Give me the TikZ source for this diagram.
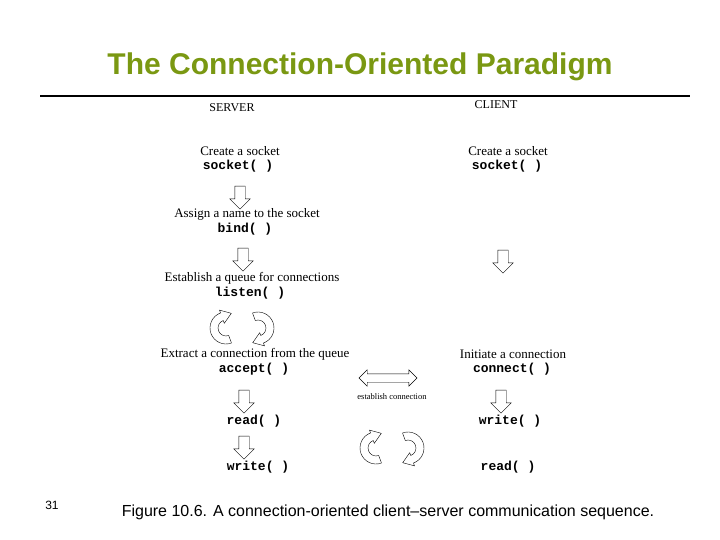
\documentclass[tikz,border=0pt]{standalone}
\usepackage{fontspec}
\setmainfont{Liberation Serif}
\newfontfamily\arialfont{Liberation Sans}
\setmonofont{Liberation Mono}
\usetikzlibrary{shapes.arrows,calc}
\definecolor{titlegreen}{RGB}{122,152,18}
\tikzset{
  stage/.style = {font=\fontsize{13}{14}\selectfont, inner sep=0pt},
  call/.style = {font=\fontsize{13}{14}\selectfont\ttfamily\bfseries, inner sep=0pt},
  down/.style = {single arrow, draw, shape border rotate=270, minimum height=23pt,
                 inner sep=5pt, single arrow head extend=5pt},
  loop/.pic = {
    \draw ($(70:16)$) arc (70:250:16) -- (250:19) -- ($(250:12)+(-20:10)$)
          -- (250:5) -- (250:8) arc (250:70:8) -- cycle;
  }
}
\begin{document}
\begin{tikzpicture}[x=1pt, y=-1pt]
	\useasboundingbox (0,0) rectangle (720,540);
	\node [titlegreen, font=\arialfont\bfseries\fontsize{30}{32}\selectfont] (title) at (360,67) {The Connection-Oriented Paradigm};
	\draw [line width=2.5pt] (40,96) -- (690,96);
	\node [stage, font=\fontsize{12}{12}\selectfont] (server) at (232,108) {SERVER};
	\node [stage, font=\fontsize{12}{12}\selectfont] (client) at (496,105) {CLIENT};

	% server side
	\node [stage] (s1) at (240,151) {Create a socket};
	\node [call] (s1c) at (238,166) {socket( )};
	\node [down] (sa1) at (240,195) {};
	\node [stage] (s2) at (247,214) {Assign a name to the socket};
	\node [call] (s2c) at (245,229) {bind( )};
	\node [down] (sa2) at (243,257) {};
	\node [stage] (s3) at (252,278) {Establish a queue for connections};
	\node [call] (s3c) at (250,293) {listen( )};
	\pic at (226,328) {loop};
	\pic [rotate=180] at (258,328) {loop};
	\node [stage] (s4) at (255,354) {Extract a connection from the queue};
	\node [call] (s4c) at (254,369) {accept( )};
	\node [down] (sa3) at (244,399) {};
	\node [call] (s5) at (254,421) {read( )};
	\node [down] (sa4) at (244,445) {};
	\node [call] (s6) at (258,467) {write( )};

	% client side
	\node [stage] (c1) at (508,151) {Create a socket};
	\node [call] (c1c) at (507,166) {socket( )};
	\node [down] (ca1) at (503,259) {};
	\node [stage] (c2) at (513,354) {Initiate a connection};
	\node [call] (c2c) at (512,369) {connect( )};
	\node [down] (ca2) at (501,399) {};
	\node [call] (c3) at (510,421) {write( )};
	\node [call] (c4) at (508,467) {read( )};

	% between
	\node [double arrow, draw, minimum height=58pt, inner sep=4pt, double arrow head extend=4pt] (link) at (388,378) {};
	\node [stage, font=\fontsize{8.5}{9}\selectfont] (linklbl) at (392,397) {establish connection};
	\pic at (376,448) {loop};
	\pic [rotate=180] at (408,448) {loop};

	\node [font=\arialfont\fontsize{12}{12}\selectfont] (page) at (52,505) {31};
	\node [font=\arialfont\fontsize{16}{18}\selectfont] (caption) at (388,512) {Figure 10.6. A connection-oriented client–server communication sequence.};
\end{tikzpicture}
\end{document}
